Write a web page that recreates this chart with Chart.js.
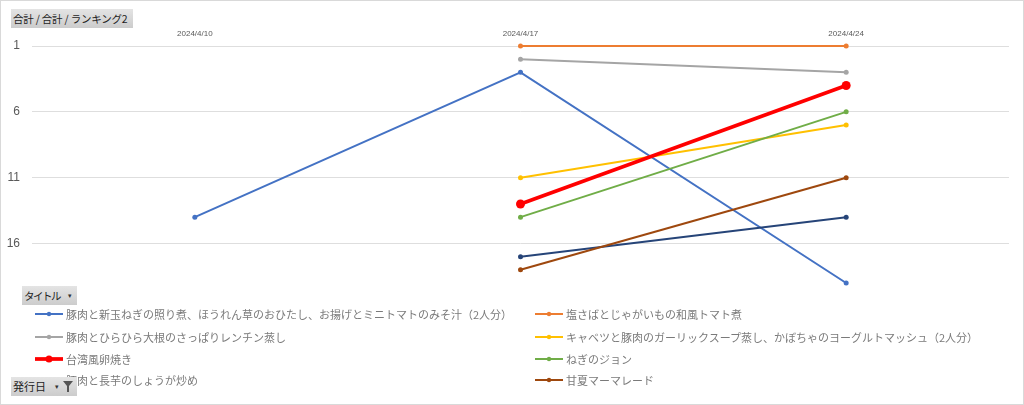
<!DOCTYPE html>
<html><head><meta charset="utf-8">
<script src="https://cdn.jsdelivr.net/npm/chart.js@4"></script>
<style>
html,body{margin:0;padding:0;background:#fff;}
#wrap{position:relative;width:1024px;height:405px;overflow:hidden;font-family:"Noto Sans CJK JP","Noto Sans",sans-serif;}
#c{position:absolute;left:0;top:0;}
#frame{position:absolute;left:0;top:0;width:1024px;height:405px;box-sizing:border-box;border:1px solid #d9d9d9;pointer-events:none;z-index:5;}
.btn{position:absolute;background:linear-gradient(#e4e4e4,#cccccc);color:#1e1e1e;font-size:10.5px;line-height:19px;height:19px;padding:0 0 0 2px;box-sizing:border-box;white-space:nowrap;z-index:4;overflow:hidden;}
.arr{position:absolute;font-size:7px;color:#333;top:0;letter-spacing:0;}
.leg{position:absolute;font-size:11px;color:#7a7a7a;white-space:nowrap;line-height:16px;height:16px;z-index:2;}
.leg svg{position:absolute;top:3px;}
.leg span{position:absolute;top:0;}
</style>
</head><body>
<div id="wrap">
<canvas id="c" width="1024" height="405"></canvas>
<div id="legend"></div>
<div class="btn" style="left:11px;top:9px;width:122px;letter-spacing:-0.2px;">合計 / 合計 / ランキング2</div>
<div class="btn" style="left:22px;top:286px;width:55px;letter-spacing:-1.5px;">タイトル<span class="arr" style="left:46px;">▾</span></div>
<div class="btn" style="left:11px;top:377px;width:66px;font-size:11px;">発行日<span class="arr" style="left:44px;">▾</span><svg style="position:absolute;left:52px;top:4px;" width="10" height="11" viewBox="0 0 10 11"><path d="M0 0 H10 L6 5 V11 H4 V5 Z" fill="#555"/></svg></div>
<div id="frame"></div>
</div>
<script>
const categories = ["2024/4/10", "2024/4/17", "2024/4/24"];
const yTickValues = [1, 6, 11, 16];

const seriesNames = [
  "豚肉と新玉ねぎの照り煮、ほうれん草のおひたし、お揚げとミニトマトのみそ汁（2人分）",
  "塩さばとじゃがいもの和風トマト煮",
  "豚肉とひらひら大根のさっぱりレンチン蒸し",
  "キャベツと豚肉のガーリックスープ蒸し、かぼちゃのヨーグルトマッシュ（2人分）",
  "台湾風卵焼き",
  "ねぎのジョン",
  "豚肉と長芋のしょうが炒め",
  "甘夏マーマレード"
];
const s1 = [14, 3, 19];
const s2 = [null, 1, 1];
const s3 = [null, 2, 3];
const s4 = [null, 11, 7];
const s5 = [null, 13, 4];
const s6 = [null, 14, 6];
const s7 = [null, 17, 14];
const s8 = [null, 18, 11];
const seriesValues = [s1, s2, s3, s4, s5, s6, s7, s8];
const seriesColors = ["#4472C4", "#ED7D31", "#A5A5A5", "#FFC000", "#FF0000", "#70AD47", "#264478", "#9E480E"];
const highlighted = 4;

const datasets = seriesValues.map((vals, i) => ({
  label: seriesNames[i],
  data: vals,
  borderColor: seriesColors[i],
  backgroundColor: seriesColors[i],
  borderWidth: i === highlighted ? 3.75 : 2,
  pointRadius: i === highlighted ? 4.5 : 2.5,
  pointHoverRadius: i === highlighted ? 4.5 : 2.5,
  pointBorderWidth: 0,
  tension: 0,
  clip: false,
  order: -i
}));

const chart = new Chart(document.getElementById('c'), {
  type: 'line',
  data: { labels: categories, datasets },
  options: {
    responsive: false,
    animation: false,
    devicePixelRatio: 1,
    layout: { padding: { left: 0, right: 15, top: 0, bottom: 122 } },
    plugins: { legend: { display: false }, tooltip: { enabled: false } },
    scales: {
      x: {
        position: 'top',
        offset: true,
        grid: { display: false, drawTicks: false, offset: true },
        border: { display: false },
        ticks: { color: '#595959', font: { family: 'Liberation Sans, Arial', size: 8 }, padding: 7, maxRotation: 0 },
        afterFit: s => { s.height = 46; }
      },
      y: {
        reverse: true,
        min: 1,
        max: 19,
        grid: { color: '#dedede', lineWidth: 1, drawTicks: false },
        border: { display: false },
        ticks: { color: '#595959', font: { family: 'Liberation Sans, Arial', size: 12 }, padding: 12, crossAlign: 'near' },
        afterBuildTicks: s => { s.ticks = yTickValues.map(v => ({ value: v })); },
        afterFit: s => { s.width = 32; }
      }
    }
  }
});

// HTML legend built from the chart's datasets (2 columns, row-major)
const legendEl = document.getElementById('legend');
const rowCenters = [314, 337, 359, 380];
chart.data.datasets.forEach((ds, i) => {
  const col = i % 2, row = Math.floor(i / 2);
  const baseX = col === 0 ? 35 : 535;
  const item = document.createElement('div');
  item.className = 'leg';
  item.style.left = baseX + 'px';
  item.style.top = (rowCenters[row] - 8) + 'px';
  const lw = ds.borderWidth, r = i === highlighted ? 3.5 : 2.2;
  item.innerHTML = `<svg width="28" height="10" style="left:0"><line x1="0" y1="5" x2="28" y2="5" stroke="${ds.borderColor}" stroke-width="${lw}"/><circle cx="14" cy="5" r="${r}" fill="${ds.borderColor}"/></svg><span style="left:31px">${ds.label}</span>`;
  legendEl.appendChild(item);
});
</script>
</body></html>
